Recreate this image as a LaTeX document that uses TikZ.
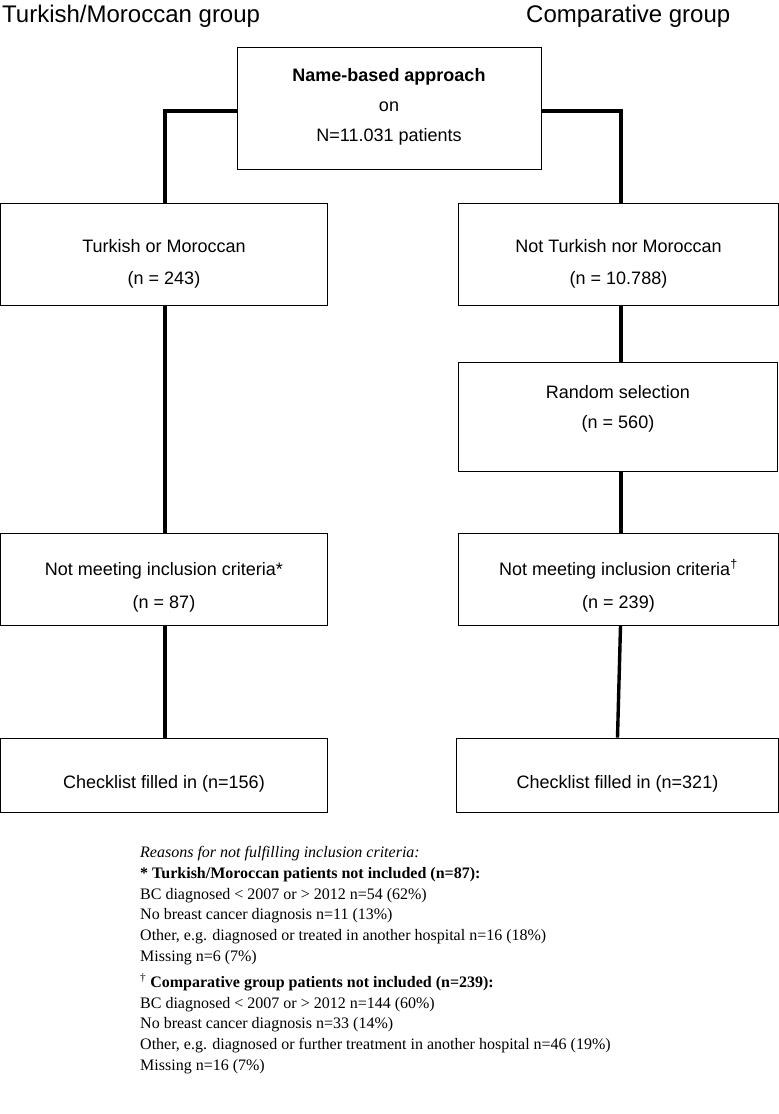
\documentclass[tikz,border=0pt]{standalone}
\usepackage{fontspec}
\setmainfont{Liberation Sans}
\newfontfamily\notefont{Liberation Serif}
\tikzset{
  box/.style={draw, line width=0.9pt, align=center, inner sep=0pt,
    font=\fontsize{18}{32}\selectfont},
  textlow/.style={execute at begin node={\rule{0pt}{#1}}},
  texthigh/.style={execute at end node={\rule[-#1]{0pt}{#1}}},
  conn/.style={line width=3.4pt},
  title/.style={anchor=west, inner sep=0pt, font=\fontsize{24}{26}\selectfont}
}
\begin{document}
\begin{tikzpicture}[x=1pt, y=-1pt]
  \useasboundingbox (0,0) rectangle (779,1114);
  % group titles
  \node[title] (tl) at (2, 16) {Turkish/Moroccan group};
  \node[title] (tr) at (526, 16) {Comparative group};
  % boxes
  \node[box, minimum width=304, minimum height=122, texthigh=6.6pt,
    font=\fontsize{18}{30}\selectfont] (top) at (389, 108)
    {\textbf{Name-based approach}\\on\\N=11.031 patients};
  \node[box, minimum width=327, minimum height=102, textlow=64pt] (tm) at (164, 254)
    {Turkish or Moroccan\\(n = 243)};
  \node[box, minimum width=320, minimum height=102, textlow=64pt] (ntm) at (618.5, 254)
    {Not Turkish nor Moroccan\\(n = 10.788)};
  \node[box, minimum width=319, minimum height=109, texthigh=21pt,
    font=\fontsize{18}{30}\selectfont] (rnd) at (618, 417)
    {Random selection\\(n = 560)};
  \node[box, minimum width=327, minimum height=92, textlow=61pt,
    font=\fontsize{18}{33}\selectfont] (nml) at (164, 579.5)
    {Not meeting inclusion criteria*\\(n = 87)};
  \node[box, minimum width=320, minimum height=92, textlow=61pt,
    font=\fontsize{18}{33}\selectfont] (nmr) at (618.5, 579.5)
    {Not meeting inclusion criteria\textsuperscript{\dag}\\(n = 239)};
  \node[box, minimum width=327, minimum height=74, textlow=31.5pt] (chl) at (164, 775)
    {Checklist filled in (n=156)};
  \node[box, minimum width=322, minimum height=74, textlow=31.5pt] (chr) at (617.5, 775)
    {Checklist filled in (n=321)};
  % connectors
  \draw[conn] ([yshift=-3pt]top.west) -| ([xshift=1pt]tm.north);
  \draw[conn] ([yshift=-3pt]top.east) -| ([xshift=2.5pt]ntm.north);
  \draw[conn] ([xshift=1pt]tm.south) -- ([xshift=1pt]nml.north);
  \draw[conn] ([xshift=1pt]nml.south) -- ([xshift=1pt]chl.north);
  \draw[conn] ([xshift=2.5pt]ntm.south) -- ([xshift=3pt]rnd.north);
  \draw[conn] ([xshift=3pt]rnd.south) -- ([xshift=2.5pt]nmr.north);
  \draw[conn] ([xshift=2pt]nmr.south) -- (chr.north);
  % footnote
  \node[anchor=north west, inner sep=0pt, align=left,
    font=\notefont\fontsize{16}{20.8}\selectfont] (note) at (140, 846)
    {\textit{Reasons for not fulfilling inclusion criteria:}\\
     \textbf{* Turkish/Moroccan patients not included (n=87):}\\
     BC diagnosed < 2007 or > 2012 n=54 (62\%)\\
     No breast cancer diagnosis n=11 (13\%)\\
     Other, e.g. diagnosed or treated in another hospital n=16 (18\%)\\
     Missing n=6 (7\%)\\[5pt]
     \textsuperscript{\dag} \textbf{Comparative group patients not included (n=239):}\\
     BC diagnosed < 2007 or > 2012 n=144 (60\%)\\
     No breast cancer diagnosis n=33 (14\%)\\
     Other, e.g. diagnosed or further treatment in another hospital n=46 (19\%)\\
     Missing n=16 (7\%)};
\end{tikzpicture}
\end{document}
